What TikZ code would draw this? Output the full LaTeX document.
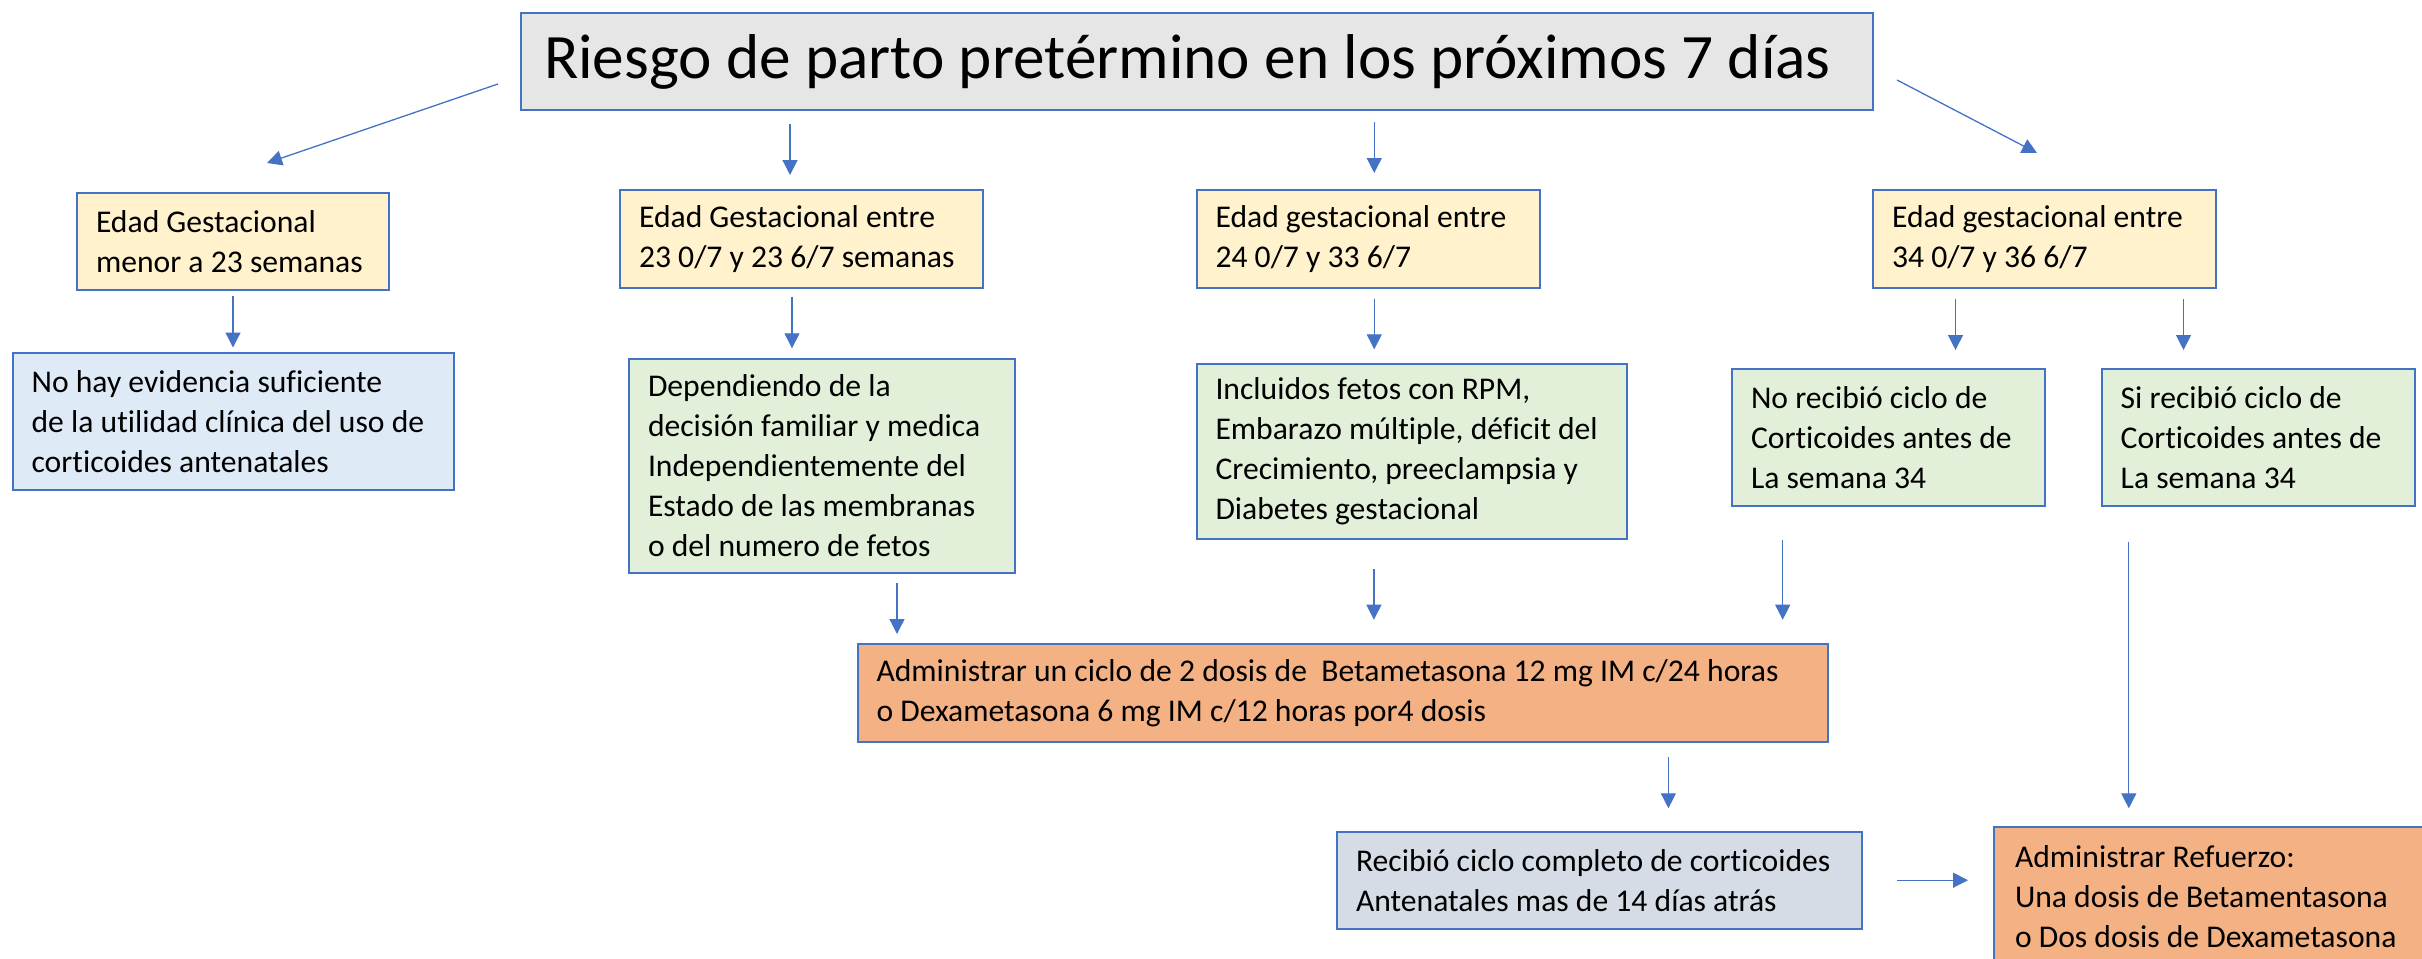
\documentclass[tikz,border=0pt]{standalone}
\usepackage{fontspec}
\setmainfont{Carlito}[Ligatures=NoCommon]
\usetikzlibrary{arrows.meta,calc}

\definecolor{azul}{HTML}{4472C4}
\definecolor{gristitulo}{HTML}{E7E6E6}
\definecolor{amarillo}{HTML}{FFF2CC}
\definecolor{celeste}{HTML}{DEEBF7}
\definecolor{verde}{HTML}{E2F0D9}
\definecolor{naranja}{HTML}{F4B183}
\definecolor{grisazul}{HTML}{D6DCE5}

\begin{document}
\begin{tikzpicture}[
  caja/.style={draw=azul, line width=0.02cm, anchor=north west,
    inner xsep=0.19cm, inner ysep=0pt, font=\fontsize{9}{11.4}\selectfont,
    execute at begin node={\raggedright\spaceskip=0pt\xspaceskip=0pt\hyphenpenalty=10000}},
  flecha/.style={azul, line width=0.013cm, -{Triangle[length=0.15cm,width=0.15cm]}}
]
\useasboundingbox (0,0) rectangle (24.22,-9.58);
\clip (0,0) rectangle (24.22,-9.58);

% Titulo
\node[caja, fill=gristitulo, inner xsep=0.23cm, text width=13.06cm, minimum height=0.97cm,
  font=\fontsize{18}{22}\selectfont] (titulo) at (5.20,-0.12)
  {Riesgo de parto pretérmino en los próximos 7 días};

% Edades gestacionales
\node[caja, fill=amarillo, text width=2.74cm, minimum height=0.97cm] (menor) at (0.76,-1.92)
  {Edad Gestacional\\menor a 23 semanas};
\node[caja, fill=amarillo, text width=3.25cm, minimum height=0.98cm] (entre23) at (6.19,-1.89)
  {Edad Gestacional entre\\23 0/7 y 23 6/7 semanas};
\node[caja, fill=amarillo, text width=3.055cm, minimum height=0.98cm] (entre24) at (11.955,-1.89)
  {Edad gestacional entre\\24 0/7 y 33 6/7};
\node[caja, fill=amarillo, text width=3.05cm, minimum height=0.98cm] (entre34) at (18.72,-1.89)
  {Edad gestacional entre\\34 0/7 y 36 6/7};

% Segundo nivel
\node[caja, fill=celeste, text width=4.03cm, minimum height=1.37cm] (noevid) at (0.116,-3.52)
  {No hay evidencia suficiente\\de la utilidad clínica del uso de\\corticoides antenatales};
\node[caja, fill=verde, text width=3.48cm, minimum height=2.14cm] (depende) at (6.28,-3.577)
  {Dependiendo de la\\decisión familiar y medica\\Independientemente del\\Estado de las membranas\\o del numero de fetos};
\node[caja, fill=verde, text width=3.92cm, minimum height=1.753cm] (incluidos) at (11.955,-3.627)
  {Incluidos fetos con RPM,\\Embarazo múltiple, déficit del\\Crecimiento, preeclampsia y\\Diabetes gestacional};
\node[caja, fill=verde, text width=2.746cm, minimum height=1.364cm] (norecibio) at (17.31,-3.683)
  {No recibió ciclo de\\Corticoides antes de\\La semana 34};
\node[caja, fill=verde, text width=2.748cm, minimum height=1.364cm] (sirecibio) at (21.007,-3.683)
  {Si recibió ciclo de\\Corticoides antes de\\La semana 34};

% Tratamiento
\node[caja, fill=naranja, text width=9.32cm, minimum height=0.977cm] (administrar) at (8.565,-6.43)
  {Administrar un ciclo de 2 dosis de\ \ Betametasona 12 mg IM c/24 horas\\o Dexametasona 6 mg IM c/12 horas por4 dosis};
\node[caja, fill=grisazul, text width=4.865cm, minimum height=0.97cm] (recibio) at (13.36,-8.307)
  {Recibió ciclo completo de corticoides\\Antenatales mas de 14 días atrás};
\node[caja, fill=naranja, inner xsep=0.21cm, text width=4.58cm, minimum height=1.40cm] (refuerzo) at (19.93,-8.257)
  {Administrar Refuerzo:\\Una dosis de Betamentasona\\o Dos dosis de Dexametasona};

% Flechas desde el titulo
\draw[flecha] ([shift={(-0.22,-0.225)}]titulo.west) -- ([shift={(0.34,0.29)}]menor.north);
\draw[flecha] ($(entre23.north |- titulo.south)+(-0.115,-0.13)$) -- ([shift={(-0.115,0.14)}]entre23.north);
\draw[flecha] ($(entre24.north |- titulo.south)+(0.06,-0.11)$) -- ([shift={(0.06,0.16)}]entre24.north);
\draw[flecha] ([shift={(0.23,-0.185)}]titulo.east) -- ([shift={(-0.075,0.36)}]entre34.north);

% Flechas al segundo nivel
\draw[flecha] ([yshift=-0.05cm]menor.south) -- ($(menor.south |- noevid.north)+(0,0.045)$);
\draw[flecha] ([shift={(-0.095,-0.077)}]entre23.south) -- ($(entre23.south |- depende.north)+(-0.095,0.094)$);
\draw[flecha] ([shift={(0.06,-0.097)}]entre24.south) -- ($(entre24.south |- incluidos.north)+(0.06,0.134)$);
\draw[flecha] ([shift={(-0.89,-0.097)}]entre34.south) -- ($(entre34.south |- norecibio.north)+(-0.89,0.183)$);
\draw[flecha] ([shift={(1.39,-0.103)}]entre34.south) -- ($(entre34.south |- sirecibio.north)+(1.39,0.183)$);

% Flechas al tratamiento
\draw[flecha] ([shift={(0.75,-0.09)}]depende.south) -- ($(depende.south |- administrar.north)+(0.75,0.09)$);
\draw[flecha] ([shift={(-0.376,-0.29)}]incluidos.south) -- ($(incluidos.south |- administrar.north)+(-0.376,0.233)$);
\draw[flecha] ([shift={(-1.056,-0.33)}]norecibio.south) -- ($(norecibio.south |- administrar.north)+(-1.056,0.233)$);
\draw[flecha] ([shift={(-1.293,-0.35)}]sirecibio.south) -- ($(sirecibio.south |- refuerzo.north)+(-1.293,0.174)$);
\draw[flecha] ([shift={(3.259,-0.143)}]administrar.south) -- ($(administrar.south |- recibio.north)+(3.259,0.224)$);
\draw[flecha] ([xshift=0.348cm]recibio.east) -- ($(refuerzo.west |- recibio.east)+(-0.25,0)$);
\end{tikzpicture}
\end{document}
